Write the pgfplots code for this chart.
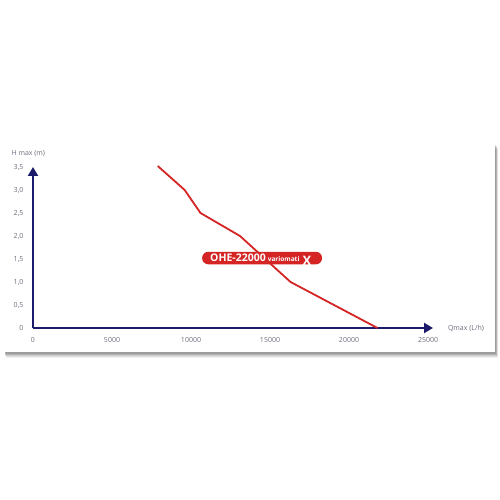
\documentclass[border=0pt]{standalone}
\usepackage{pgfplots}
\pgfplotsset{compat=1.18}
\usepackage{fontspec}
\setmainfont{Open Sans}
\usetikzlibrary{arrows.meta}
\definecolor{navy}{HTML}{1C1C6B}
\definecolor{curvered}{HTML}{D42424}
\definecolor{tickgray}{HTML}{6E6E7E}
\begin{document}
\begin{tikzpicture}[x=1pt,y=1pt]
\fill[white] (0,0) rectangle (500,500);
% card shadow
\foreach \o/\op in {6/0.05,5/0.07,4/0.09,3/0.11,2/0.13}{
  \fill[black,opacity=\op] (4+\o*0.3,148-\o) rectangle (495+\o*0.5,357-\o);
}
\fill[white] (0,148) rectangle (495,357);
\begin{axis}[
  at={(33pt,172pt)}, anchor=origin,
  x=0.0158pt, y=46pt,
  xmin=0, xmax=25316, ymin=0, ymax=3.5,
  axis lines=left,
  axis line style={navy, line width=2.6pt, -{Triangle[width=10pt,length=9pt]}},
  scaled ticks=false,
  xtick={0,5000,10000,15000,20000,25000},
  xticklabels={0,5000,10000,15000,20000,25000},
  ytick={0,0.5,1,1.5,2,2.5,3,3.5},
  yticklabels={0,{0,5},{1,0},{1,5},{2,0},{2,5},{3,0},{3,5}},
  major tick length=0pt,
  tick label style={font=\fontsize{7}{8}\selectfont, text=tickgray},
  xticklabel style={yshift=-6pt},
  yticklabel style={xshift=-6pt},
  clip=false,
]
\addplot[curvered, line width=1.8pt, line join=round] coordinates {
  (7900,3.52) (9600,3.0) (10600,2.5) (13100,2.0) (16300,1.0) (21800,0)
};
\node[fill=curvered, rounded corners=6.2pt, minimum height=12.5pt, minimum width=120pt, inner sep=0pt] at (axis cs:14500,1.52) {};
\node[text=white, font=\bfseries\fontsize{10.5}{11}\selectfont, anchor=west, inner sep=0pt] at (axis cs:11200,1.52) {OHE-22000};
\node[text=white, font=\bfseries\fontsize{6.5}{7}\selectfont, anchor=west, inner sep=0pt] at (axis cs:14850,1.50) {variomati};
\node[text=white, font=\bfseries\fontsize{13}{13}\selectfont, anchor=west, inner sep=0pt] at (axis cs:17050,1.47) {X};
\end{axis}
\node[anchor=west, text=tickgray, font=\fontsize{7}{8}\selectfont] at (8,346) {H max (m)};
\node[text=tickgray, font=\fontsize{7}{8}\selectfont] at (466,172) {Qmax (L/h)};
\end{tikzpicture}
\end{document}
